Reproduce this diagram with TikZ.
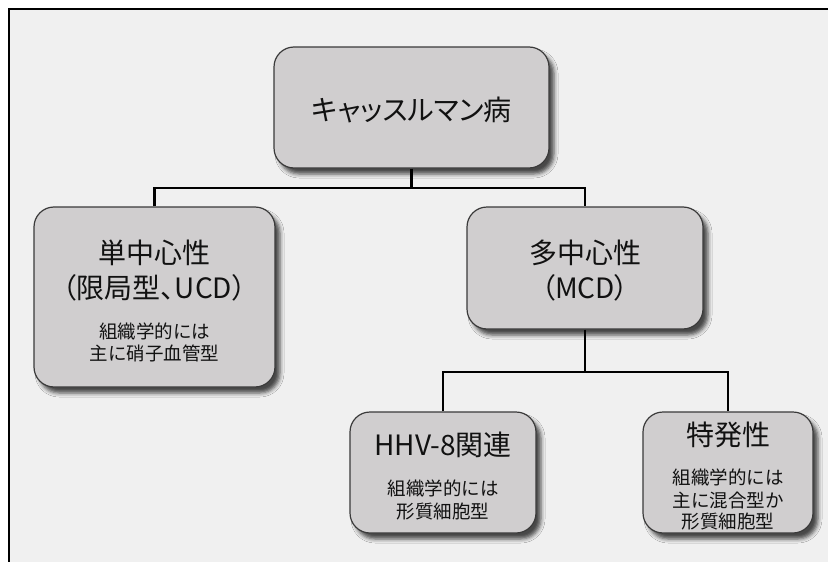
\documentclass[tikz,border=0pt]{standalone}
\usepackage{fontspec}
\setmainfont{Noto Sans CJK JP}
\newfontfamily\jp{Noto Sans CJK JP}
\newfontfamily\jpp[RawFeature=+palt]{Noto Sans CJK JP}
\usetikzlibrary{shadows.blur}
\definecolor{bgc}{HTML}{F0F0F0}
\definecolor{boxc}{HTML}{D0CECF}
\definecolor{edgec}{HTML}{3A3A3A}
\definecolor{txtc}{HTML}{111111}
\tikzset{
  box/.style={draw=edgec, line width=1.2pt, fill=boxc, rounded corners=20pt,
    inner sep=0pt, shape=rectangle,
    blur shadow={shadow xshift=5pt, shadow yshift=-6pt, shadow blur radius=4pt, shadow opacity=70}},
  big/.style={text=txtc, inner sep=0pt, font=\jpp\fontsize{28}{32}\selectfont},
  small/.style={text=txtc, inner sep=0pt, font=\jp\fontsize{18.5}{22}\selectfont},
  conn/.style={draw=black, line width=2.5pt}
}
\begin{document}
\begin{tikzpicture}[x=1pt,y=-1pt]
\useasboundingbox (0,0) rectangle (828,562);
\fill[white] (0,0) rectangle (828,562);
\fill[bgc] (9,9) rectangle (828,562);
\draw[line width=1.5pt] (9,562) -- (9,9) -- (828,9);

\coordinate (j1) at (411.5,188);
\coordinate (j2) at (585,372);

\node[box, minimum width=275pt, minimum height=121pt] (top) at (411.5,107.5) {};
\node[box, minimum width=241pt, minimum height=180pt] (ucd) at (154.5,297) {};
\node[box, minimum width=236pt, minimum height=122pt] (mcd) at (585,268) {};
\node[box, minimum width=186pt, minimum height=121pt] (hhv) at (443,472.5) {};
\node[box, minimum width=170pt, minimum height=121pt] (idio) at (728,472.5) {};

\draw[conn] (top.south) -- (j1);
\draw[conn] (ucd.north) |- (j1) -| (mcd.north);
\draw[conn] (mcd.south) -- (j2);
\draw[conn] (hhv.north) |- (j2) -| (idio.north);

\node[big] (t0) at (411.5,110) {キャッスルマン病};

\node[big] (t1a) at (154.5,253) {単中心性};
\node[big] (t1b) at (154.5,288) {（限局型、UCD）};
\node[small] (t1c) at (154.5,331) {組織学的には};
\node[small] (t1d) at (154.5,353) {主に硝子血管型};

\node[big] (t2a) at (585,253) {多中心性};
\node[big] (t2b) at (585,288) {（MCD）};

\node[big] (t3a) at (443,445) {HHV-8関連};
\node[small] (t3b) at (443,488) {組織学的には};
\node[small] (t3c) at (443,512) {形質細胞型};

\node[big] (t4a) at (728,435) {特発性};
\node[small] (t4b) at (728,477) {組織学的には};
\node[small] (t4c) at (728,500) {主に混合型か};
\node[small] (t4d) at (728,522) {形質細胞型};
\end{tikzpicture}
\end{document}
